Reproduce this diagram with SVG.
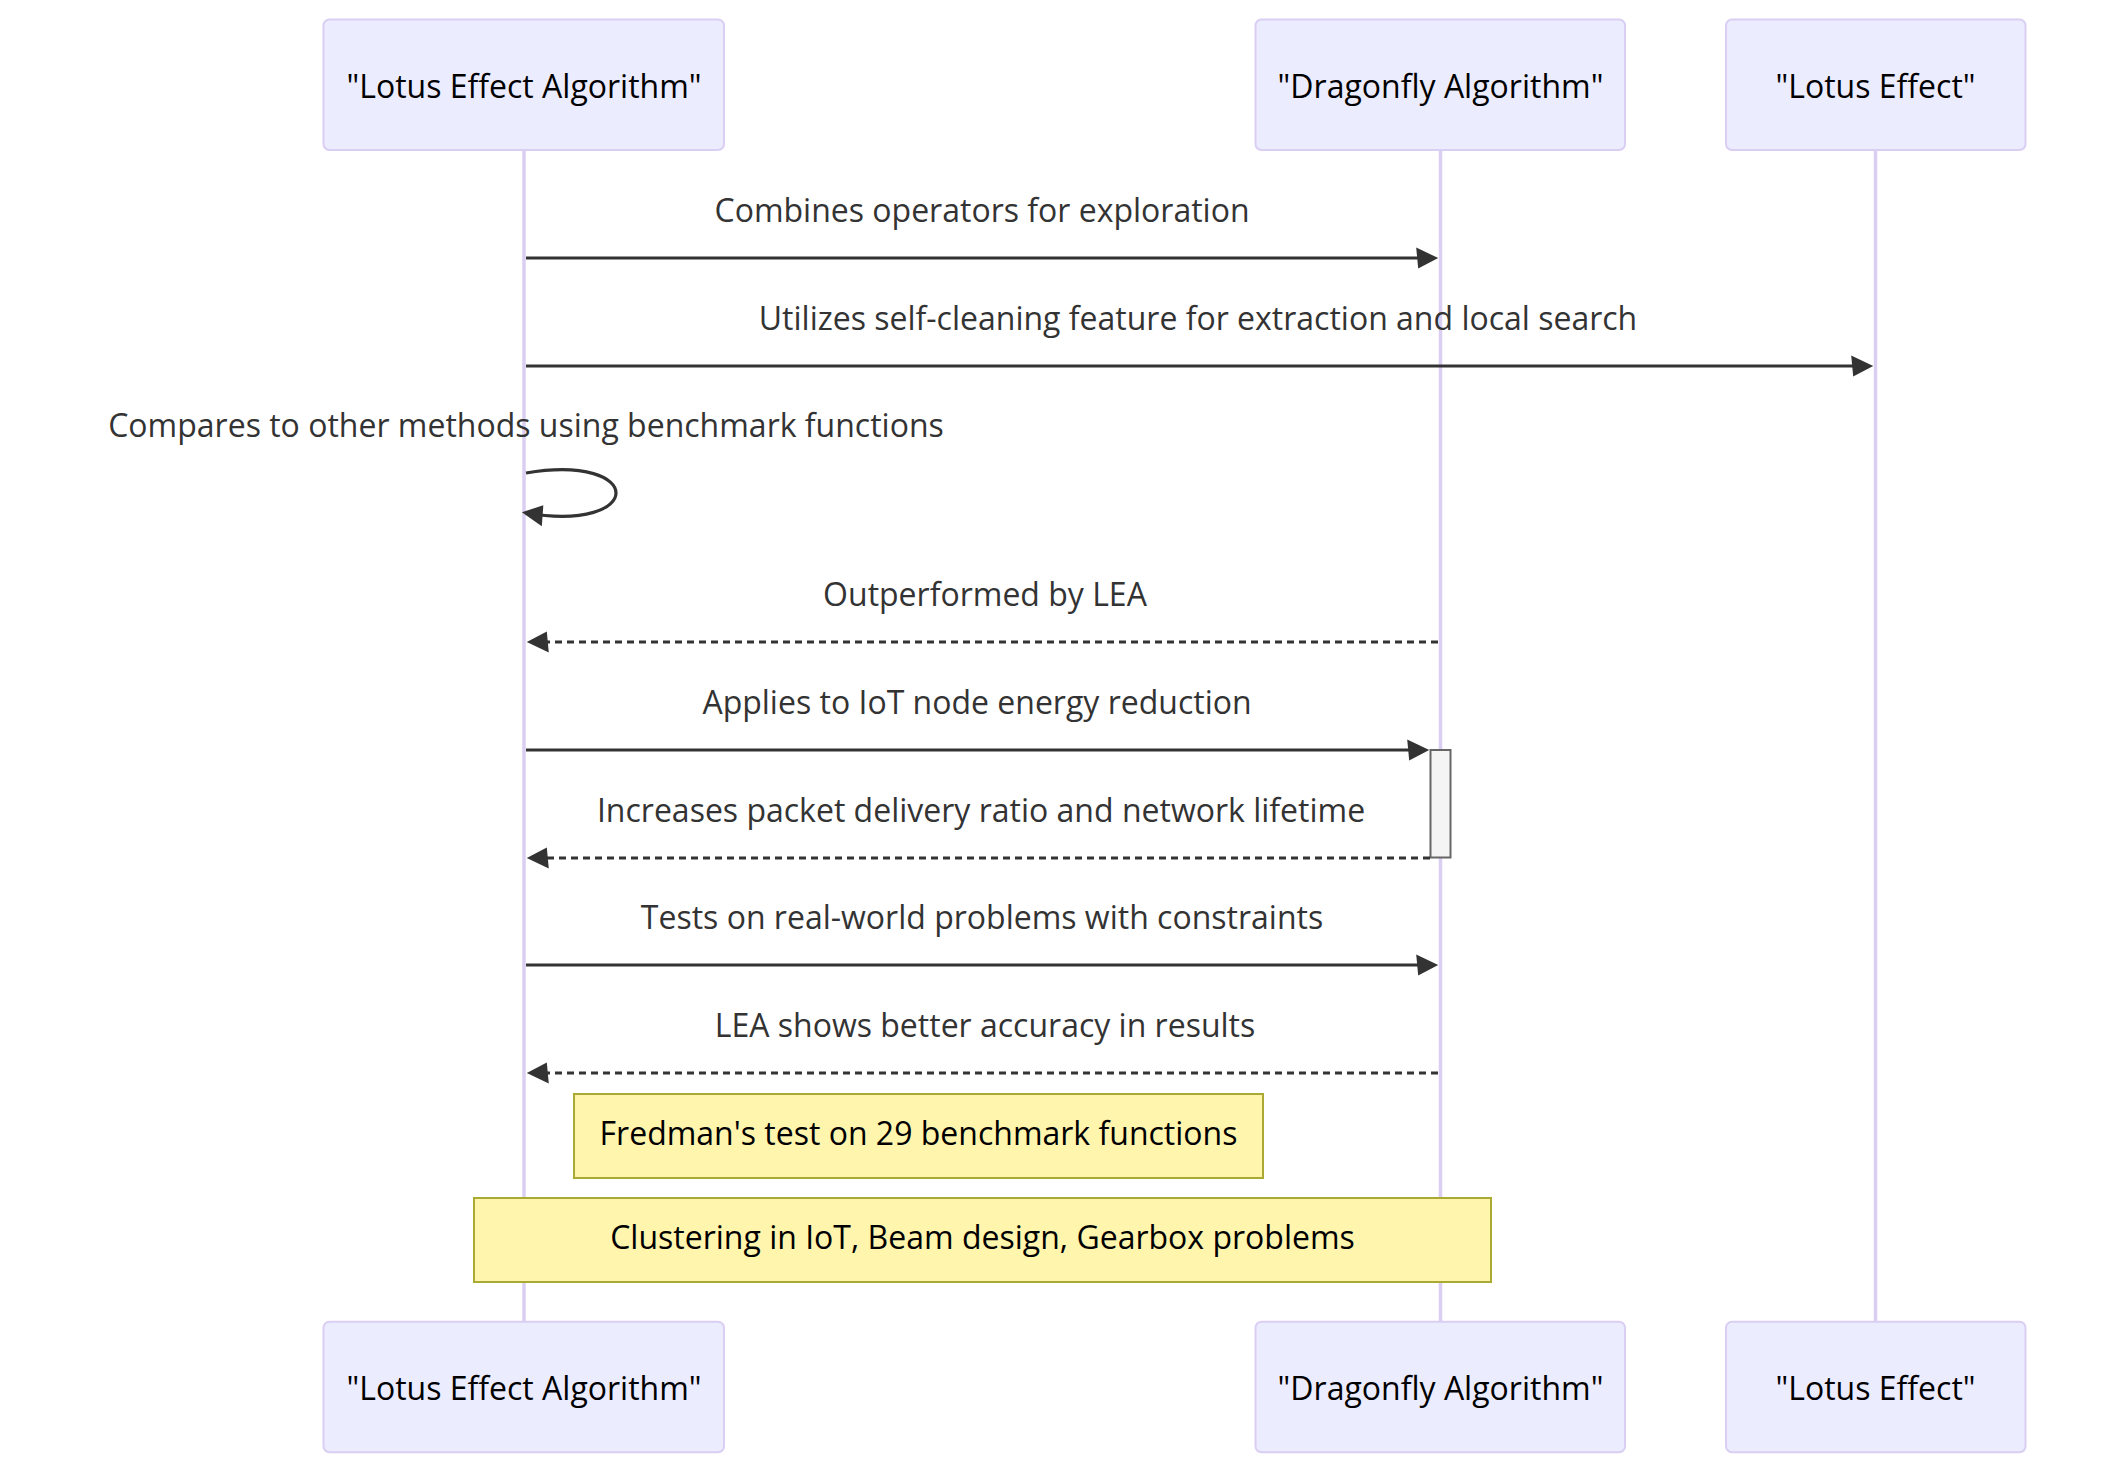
<svg xmlns="http://www.w3.org/2000/svg" width="2126" height="1474" viewBox="0 0 2126 1474">
<style>
.actor{fill:#ECECFF;stroke:#dacef3;stroke-width:2;}
.actorText{font-family:"Open Sans","Liberation Sans",sans-serif;font-size:32px;fill:#000;text-anchor:middle;}
.lifeline{stroke:#dacef3;stroke-width:3.5;}
.msg{stroke:#333;stroke-width:3.2;fill:none;}
.dashed{stroke-dasharray:7,5;}
.msgText{font-family:"Open Sans","Liberation Sans",sans-serif;font-size:32px;fill:#333;text-anchor:middle;}
.note{fill:#fff5ad;stroke:#aaaa33;stroke-width:2;}
.noteText{font-family:"Open Sans","Liberation Sans",sans-serif;font-size:32px;fill:#000;text-anchor:middle;}
.activation{fill:#f4f4f4;stroke:#666;stroke-width:2;}
</style>
<defs>
<marker id="arrowhead" markerUnits="userSpaceOnUse" markerWidth="24" markerHeight="24" refX="15.8" refY="10.5" orient="auto" style="overflow:visible">
<path d="M -2 0 L 20 10.5 L 0 21 z" fill="#333"/>
</marker>
</defs>
<rect width="2126" height="1474" fill="#ffffff"/>
<g id="lifelines">
<line class="lifeline" x1="524" y1="150" x2="524" y2="1322"/>
<line class="lifeline" x1="1440.5" y1="150" x2="1440.5" y2="1322"/>
<line class="lifeline" x1="1875.5" y1="150" x2="1875.5" y2="1322"/>
</g>
<g id="actor-lea-top">
<rect class="actor" x="323.5" y="19.5" width="400.5" height="130.5" rx="6" ry="6"/>
<text class="actorText" x="524" y="98">"Lotus Effect Algorithm"</text>
</g>
<g id="actor-da-top">
<rect class="actor" x="1255.5" y="19.5" width="369.5" height="130.5" rx="6" ry="6"/>
<text class="actorText" x="1440.5" y="98">"Dragonfly Algorithm"</text>
</g>
<g id="actor-le-top">
<rect class="actor" x="1726" y="19.5" width="299.5" height="130.5" rx="6" ry="6"/>
<text class="actorText" x="1875.5" y="98">"Lotus Effect"</text>
</g>
<g id="actor-lea-bottom">
<rect class="actor" x="323.5" y="1321.7" width="400.5" height="130.5" rx="6" ry="6"/>
<text class="actorText" x="524" y="1400.4">"Lotus Effect Algorithm"</text>
</g>
<g id="actor-da-bottom">
<rect class="actor" x="1255.5" y="1321.7" width="369.5" height="130.5" rx="6" ry="6"/>
<text class="actorText" x="1440.5" y="1400.4">"Dragonfly Algorithm"</text>
</g>
<g id="actor-le-bottom">
<rect class="actor" x="1726" y="1321.7" width="299.5" height="130.5" rx="6" ry="6"/>
<text class="actorText" x="1875.5" y="1400.4">"Lotus Effect"</text>
</g>
<g id="activation-da">
<rect class="activation" x="1430.5" y="750" width="20" height="107.5"/>
</g>
<g id="connectors">
<line class="msg" x1="526" y1="258" x2="1434" y2="258" marker-end="url(#arrowhead)"/>
<text class="msgText" x="982" y="222">Combines operators for exploration</text>
<line class="msg" x1="526" y1="366" x2="1869" y2="366" marker-end="url(#arrowhead)"/>
<text class="msgText" x="1198" y="330">Utilizes self-cleaning feature for extraction and local search</text>
<path class="msg" d="M 526,473 C 646,453 646,533 526,513" marker-end="url(#arrowhead)"/>
<text class="msgText" x="526" y="437">Compares to other methods using benchmark functions</text>
<line class="msg dashed" x1="1438" y1="642" x2="531" y2="642" marker-end="url(#arrowhead)"/>
<text class="msgText" x="985" y="606">Outperformed by LEA</text>
<line class="msg" x1="526" y1="750" x2="1425" y2="750" marker-end="url(#arrowhead)"/>
<text class="msgText" x="977" y="714">Applies to IoT node energy reduction</text>
<line class="msg dashed" x1="1430" y1="858" x2="531" y2="858" marker-end="url(#arrowhead)"/>
<text class="msgText" x="981" y="822">Increases packet delivery ratio and network lifetime</text>
<line class="msg" x1="526" y1="965" x2="1434" y2="965" marker-end="url(#arrowhead)"/>
<text class="msgText" x="982" y="929">Tests on real-world problems with constraints</text>
<line class="msg dashed" x1="1438" y1="1073" x2="531" y2="1073" marker-end="url(#arrowhead)"/>
<text class="msgText" x="985" y="1037">LEA shows better accuracy in results</text>
</g>
<g id="note-fredman">
<rect class="note" x="574" y="1094" width="689" height="84"/>
<text class="noteText" x="918.5" y="1144.5">Fredman's test on 29 benchmark functions</text>
</g>
<g id="note-clustering">
<rect class="note" x="474" y="1198" width="1017" height="84"/>
<text class="noteText" x="982.5" y="1248.5">Clustering in IoT, Beam design, Gearbox problems</text>
</g>
</svg>
